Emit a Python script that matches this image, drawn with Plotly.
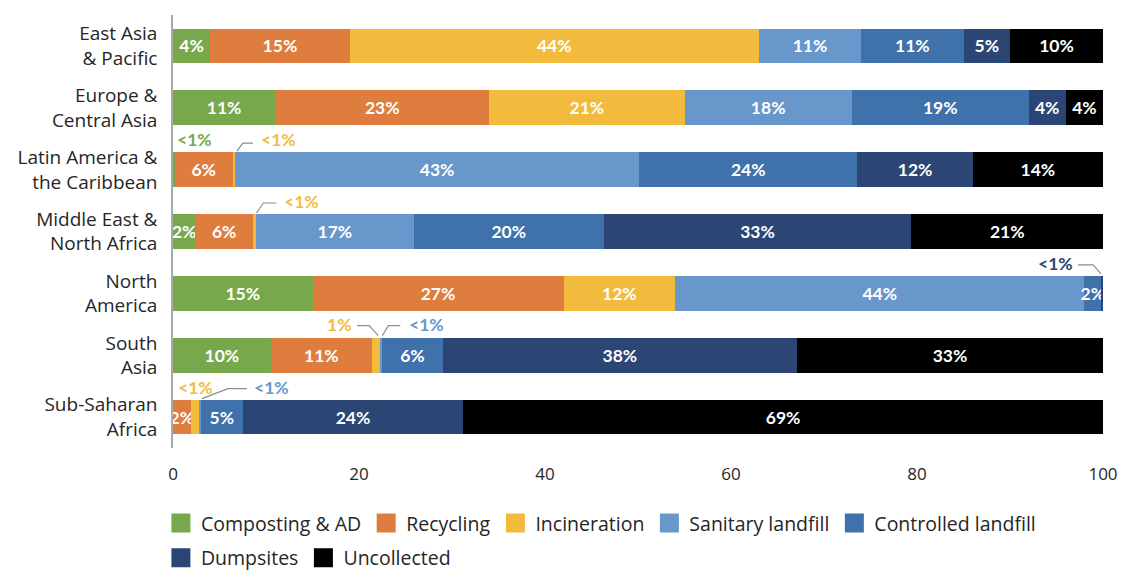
import plotly.graph_objects as go

# ---------------- data ----------------
regions = ["East Asia<br>& Pacific", "Europe &<br>Central Asia", "Latin America &<br>the Caribbean",
           "Middle East &<br>North Africa", "North<br>America", "South<br>Asia", "Sub-Saharan<br>Africa"]
series_names = ["Composting & AD", "Recycling", "Incineration", "Sanitary landfill",
                "Controlled landfill", "Dumpsites", "Uncollected"]

composting = [4, 11, 0.2, 2.4, 15, 10.5, 0]
recycling = [15, 23, 6.2, 6.2, 27, 10.9, 1.9]
incineration = [44, 21, 0.3, 0.3, 12, 0.9, 0.9]
sanitary = [11, 18, 43.4, 17, 44, 0.2, 0.2]
controlled = [11, 19, 23.5, 20.4, 1.8, 6.5, 4.5]
dumpsites = [5, 4, 12.4, 33.1, 0.2, 38.1, 23.7]
uncollected = [10, 4, 14, 20.6, 0, 32.9, 68.8]

lab_composting = ["4%", "11%", "", "2%", "15%", "10%", ""]
lab_recycling = ["15%", "23%", "6%", "6%", "27%", "11%", "2%"]
lab_incineration = ["44%", "21%", "", "", "12%", "", ""]
lab_sanitary = ["11%", "18%", "43%", "17%", "44%", "", ""]
lab_controlled = ["11%", "19%", "24%", "20%", "2%", "6%", "5%"]
lab_dumpsites = ["5%", "4%", "12%", "33%", "", "38%", "24%"]
lab_uncollected = ["10%", "4%", "14%", "21%", "", "33%", "69%"]

# small segments labelled outside the bar: (region index, series index, text)
callout_regions = [2, 2, 3, 4, 5, 5, 6, 6]
callout_series = [0, 2, 2, 5, 2, 3, 2, 3]
callout_texts = ["<1%", "<1%", "<1%", "<1%", "1%", "<1%", "<1%", "<1%"]

# ---------------- style ----------------
colors = ["#78a84c", "#de7d3e", "#f2bb3d", "#6897cc", "#3f72ab", "#2b4674", "#000000"]
FONT = "Open Sans"
BFONT = "Lato"
TXT = "#262626"
BAR_HALF = 17.5
# per callout: text offset (dx, dy up) and leader-line points in px, relative to bar top at segment centre
callout_text_off = [(21, 13), (45, 13), (47, 13), (-47, 12), (-37, 13), (45, 13), (1, 12), (72, 12)]
callout_lines = [None,
                 [(3, 1), (9, 9), (19, 9)],
                 [(2, 1), (9, 11), (22, 11)],
                 [(-1, 2), (-9, 11), (-24, 11)],
                 [(2, 2), (-7, 12), (-19, 12)],
                 [(1, 2), (7, 12), (19, 12)],
                 None,
                 [(2, 1), (28, 11), (47, 11)]]

values = [composting, recycling, incineration, sanitary, controlled, dumpsites, uncollected]
labels = [lab_composting, lab_recycling, lab_incineration, lab_sanitary, lab_controlled,
          lab_dumpsites, lab_uncollected]

fig = go.Figure()
for name, vals, labs, col in zip(series_names, values, labels, colors):
    fig.add_trace(go.Bar(
        y=regions, x=vals, name=name, orientation="h", marker=dict(color=col, line=dict(width=0)),
        text=labs, textposition="inside", insidetextanchor="middle", textangle=0,
        textfont=dict(family=BFONT, size=17.5, color="white", weight="bold"),
        cliponaxis=False, showlegend=False, hoverinfo="x+name",
    ))

# legend entries (square swatches)
for i, (name, col) in enumerate(zip(series_names, colors)):
    fig.add_trace(go.Scatter(
        x=[None], y=[None], mode="markers", name=name,
        marker=dict(symbol="square", size=16, color=col, line=dict(color=col, width=3)),
        legend="legend" if i < 5 else "legend2",
    ))

# callouts for tiny segments
annotations = []
shapes = []
for k, (ri, si, txt) in enumerate(zip(callout_regions, callout_series, callout_texts)):
    start = sum(values[j][ri] for j in range(si))
    mid = start + values[si][ri] / 2
    dx, dy = callout_text_off[k]
    annotations.append(dict(
        x=mid, y=regions[ri], xref="x", yref="y", text=txt, showarrow=False,
        xshift=dx, yshift=BAR_HALF + dy,
        font=dict(family=BFONT, size=17.5, color=colors[si], weight="bold"),
    ))
    pts = callout_lines[k]
    if pts:
        path = "M" + " L".join(f"{px},{BAR_HALF + py}" for px, py in pts)
        shapes.append(dict(
            type="path", xref="x", yref="y", xsizemode="pixel", ysizemode="pixel",
            xanchor=mid, yanchor=regions[ri], path=path,
            line=dict(color="#8c8c8c", width=1.2),
        ))

fig.update_layout(
    width=1123, height=573,
    margin=dict(l=173, r=20, t=14.5, b=124.5, autoexpand=False),
    barmode="stack", bargap=0.44,
    plot_bgcolor="white", paper_bgcolor="white",
    font=dict(family=FONT, size=18, color=TXT),
    uniformtext=dict(minsize=17.5, mode="show"),
    xaxis=dict(range=[0, 100], tickvals=[0, 20, 40, 60, 80, 100], showgrid=False, zeroline=False,
               showline=False, ticks="", ticklabelstandoff=14, automargin=False,
               tickfont=dict(family=FONT, size=17, color=TXT)),
    yaxis=dict(categoryorder="array", categoryarray=regions, range=[6.5, -0.5],
               showgrid=False, zeroline=False, showline=True, linecolor="#a8a8a8", linewidth=1.5,
               ticks="", ticklabelstandoff=10, automargin=False,
               tickfont=dict(family=FONT, size=19, color=TXT)),
    legend=dict(orientation="h", x=-0.013, xanchor="left", y=-0.174, yanchor="middle",
                traceorder="normal", font=dict(family=FONT, size=19.5, color=TXT), itemclick=False),
    legend2=dict(orientation="h", x=-0.013, xanchor="left", y=-0.254, yanchor="middle",
                 traceorder="normal", font=dict(family=FONT, size=19.5, color=TXT), itemclick=False),
    annotations=annotations,
    shapes=shapes,
)

fig.write_html("out.html")
